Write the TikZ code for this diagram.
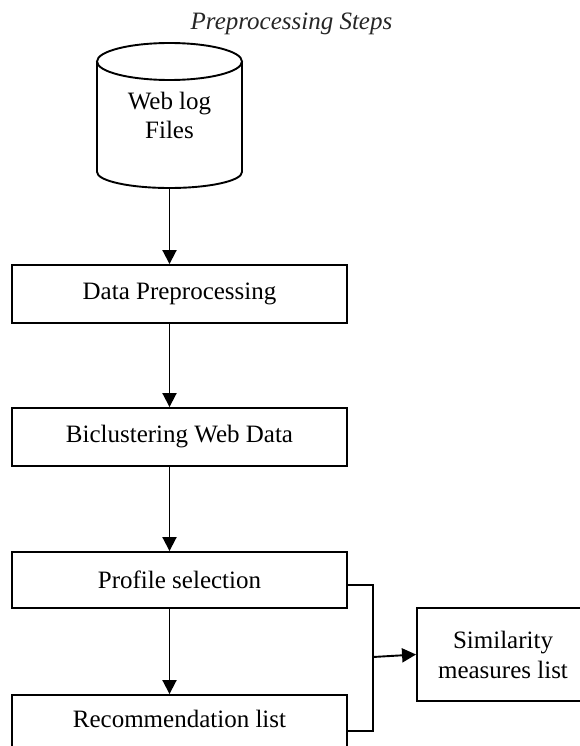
\documentclass[tikz,border=0pt]{standalone}
\usepackage{fontspec}
\setmainfont{Liberation Serif}
\usetikzlibrary{arrows.meta,calc}
\begin{document}
\begin{tikzpicture}[x=1pt,y=1pt,
  txt/.style={font=\fontsize{25}{29}\selectfont, align=center},
  box/.style={draw, line width=1.9pt, minimum width=335pt, inner sep=0pt, txt},
  arr/.style={line width=1.9pt, -{Triangle[length=14pt,width=14pt]}},
  conn/.style={line width=1.9pt}]
\useasboundingbox (0,0) rectangle (580,-746);
\clip (0,0) rectangle (580,-746);
% title
\node[anchor=base, font=\fontsize{25}{29}\selectfont\itshape, text=black!85] (title) at (291.5,-30) {Preprocessing Steps};
% cylinder
\node[txt, inner sep=0pt, minimum width=145pt, minimum height=145pt] (cyl) at (169.5,-115.5) {Web log\\Files};
\draw[line width=1.9pt] (169.5,-61.5) ellipse [x radius=72.5pt, y radius=18.5pt];
\draw[line width=1.9pt] (97,-61.5) -- (97,-172) arc[start angle=180, end angle=360, x radius=72.5pt, y radius=16pt] -- (242,-61.5);
% boxes
\node[box, minimum height=58pt] (dp) at (179.5,-294) {Data Preprocessing};
\node[box, minimum height=58pt] (bc) at (179.5,-437) {Biclustering Web Data};
\node[box, minimum height=56pt] (ps) at (179.5,-580) {Profile selection};
\node[box, minimum height=0pt, anchor=base, text height=32pt, text depth=60pt] (rec) at (179.5,-727) {Recommendation list};
\node[draw, line width=1.9pt, txt, inner sep=0pt, minimum width=172pt, minimum height=93pt, font=\fontsize{25}{30}\selectfont] (sim) at (503,-654.5) {Similarity\\measures list};
% arrows
\draw[arr] (cyl.south) -- (dp.north -| cyl.south);
\draw[arr] (dp.south -| cyl.south) -- (bc.north -| cyl.south);
\draw[arr] (bc.south -| cyl.south) -- (ps.north -| cyl.south);
\draw[arr] (ps.south -| cyl.south) -- (rec.north -| cyl.south);
% side connector
\coordinate (jt) at (373,-585);
\coordinate (jb) at (373,-731);
\coordinate (jm) at (373,-657);
\draw[conn] (jt -| ps.east) -- (jt) -- (jb) -- (jb -| rec.east);
\draw[arr] (jm) -- (sim.west);
\end{tikzpicture}
\end{document}
